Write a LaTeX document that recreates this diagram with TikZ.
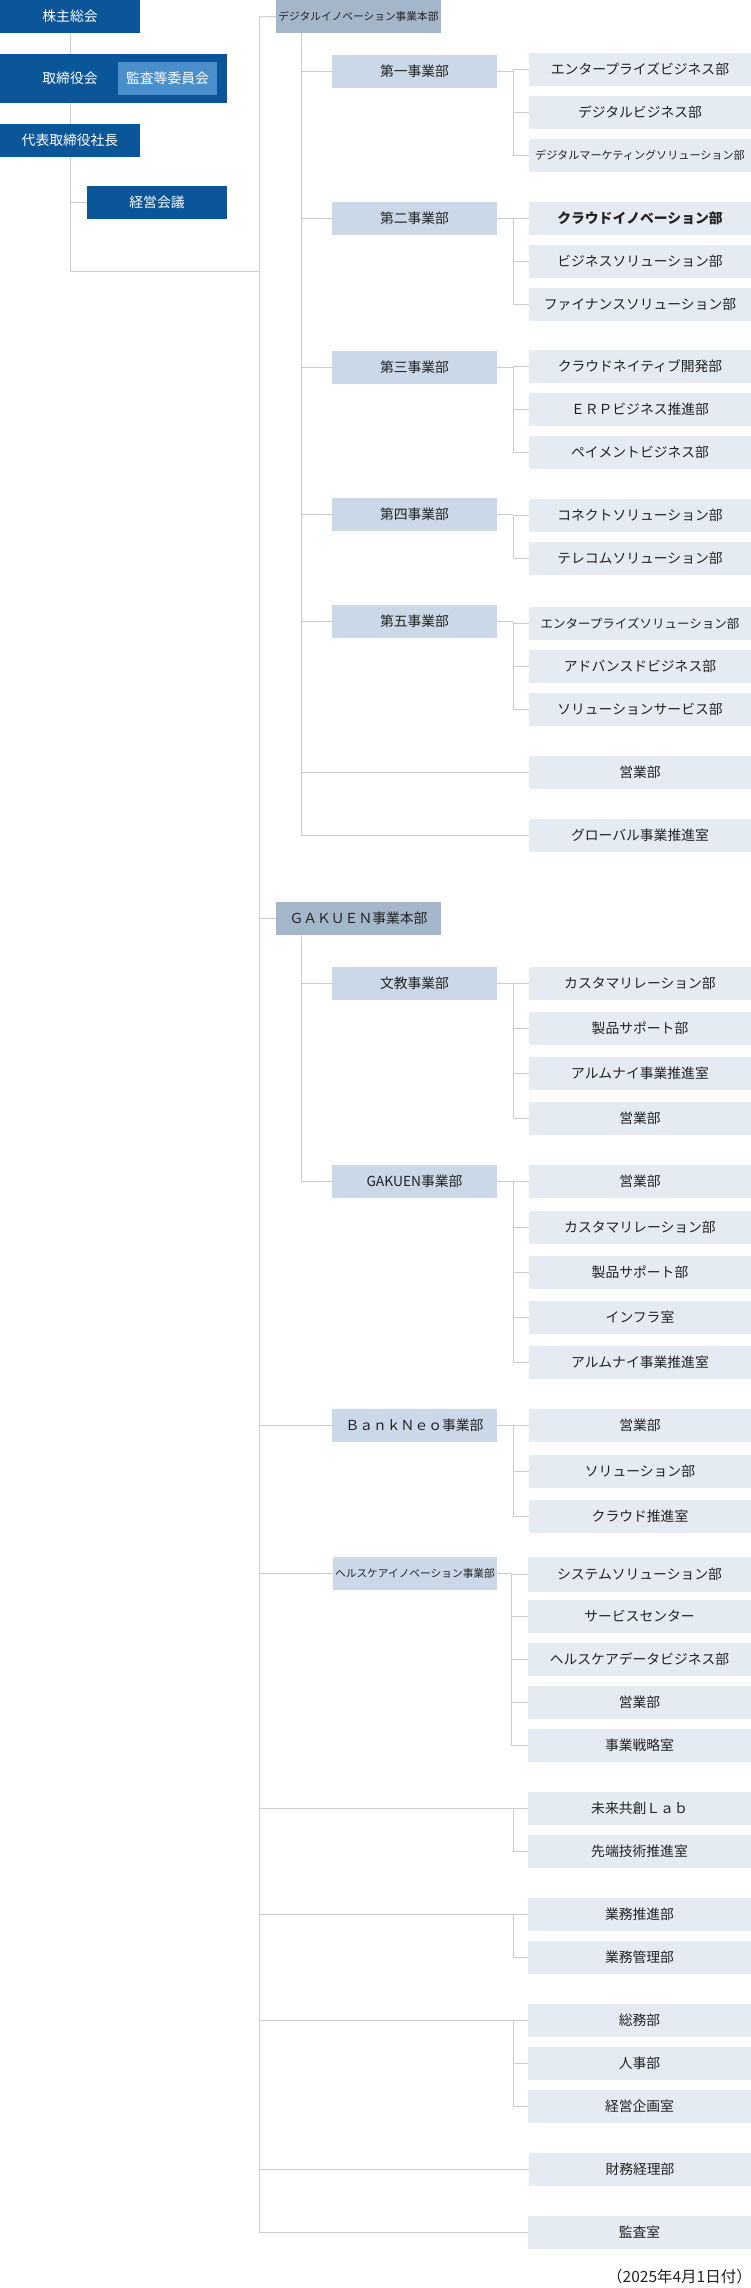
\documentclass[tikz,border=0pt]{standalone}
\usepackage{fontspec}
\setmainfont{Noto Sans CJK JP}
\newcommand{\fsz}[1]{\fontsize{#1}{#1}\selectfont}
\definecolor{cNavy}{HTML}{0B5699}
\definecolor{cLight}{HTML}{4A8ECC}
\definecolor{cHQ}{HTML}{A4B6CA}
\definecolor{cLtwo}{HTML}{CBD8E7}
\definecolor{cLthree}{HTML}{E4EBF3}
\definecolor{cLine}{HTML}{CCCCCC}
\definecolor{cText}{HTML}{222222}
\tikzset{
  conn/.style={draw=cLine, line width=1pt},
  boxbase/.style={anchor=north west, inner sep=0pt, outer sep=0pt, font=\fsz{13.8}, text=cText},
  navybox/.style={boxbase, fill=cNavy, text=white, minimum width=140pt, minimum height=33pt},
  hqbox/.style={boxbase, fill=cHQ, minimum width=165pt, minimum height=33pt},
  ltwobox/.style={boxbase, fill=cLtwo, minimum width=165pt, minimum height=33pt},
  lthreebox/.style={boxbase, fill=cLthree, minimum width=222pt, minimum height=33pt},
  lthreeb/.style={boxbase, fill=cLthree, minimum width=223pt, minimum height=33pt},
}
\begin{document}
\begin{tikzpicture}[x=1pt,y=-1pt]
\useasboundingbox (0,0) rectangle (751,2288);

% ---------- left column ----------
\node[navybox] (kabu) at (0,0) {株主総会};
\node[navybox, minimum width=227pt, minimum height=49pt] (tori) at (0,54) {};
\node[font=\fsz{13.8}, text=white, inner sep=0pt] (toritxt) at (70,78.5) {取締役会};
\node[navybox, fill=cLight, minimum width=99pt] (kansa) at (118,62) {監査等委員会};
\node[navybox] (dai) at (0,124) {代表取締役社長};
\node[navybox] (keiei) at (87,186) {経営会議};

\coordinate (ttop) at (259,17);
\coordinate (lc) at (70,271);
\draw[conn] (kabu.south) -- (kabu.south |- tori.north);
\draw[conn] (dai.north |- tori.south) -- (dai.north);
\draw[conn] (dai.south) -- (lc) -- (lc -| ttop);
\draw[conn] (dai.south |- keiei.west) -- (keiei.west);

% ---------- Digital Innovation ----------
\node[hqbox] (hq1) at (276,0) {\fsz{10.7}デジタルイノベーション事業本部};
\node[ltwobox] (d1) at (332,55) {第一事業部};
\node[ltwobox] (d2) at (332,202) {第二事業部};
\node[ltwobox] (d3) at (332,351) {第三事業部};
\node[ltwobox] (d4) at (332,498) {第四事業部};
\node[ltwobox] (d5) at (332,605) {第五事業部};

\node[lthreebox] (c11) at (529,53) {エンタープライズビジネス部};
\node[lthreebox] (c12) at (529,96) {デジタルビジネス部};
\node[lthreebox] (c13) at (529,139) {\fsz{11.1}デジタルマーケティングソリューション部};
\node[lthreebox] (c21) at (529,202) {\bfseries クラウドイノベーション部};
\node[lthreebox] (c22) at (529,245) {ビジネスソリューション部};
\node[lthreebox] (c23) at (529,288) {ファイナンスソリューション部};
\node[lthreebox] (c31) at (529,350) {クラウドネイティブ開発部};
\node[lthreebox] (c32) at (529,393) {ＥＲＰビジネス推進部};
\node[lthreebox] (c33) at (529,436) {ペイメントビジネス部};
\node[lthreebox] (c41) at (529,499) {コネクトソリューション部};
\node[lthreebox] (c42) at (529,542) {テレコムソリューション部};
\node[lthreebox] (c51) at (529,607) {\fsz{12.5}エンタープライズソリューション部};
\node[lthreebox] (c52) at (529,650) {アドバンスドビジネス部};
\node[lthreebox] (c53) at (529,693) {ソリューションサービス部};
\node[lthreebox] (yo1) at (529,756) {営業部};
\node[lthreebox] (gl1) at (529,819) {グローバル事業推進室};

\coordinate (s1) at (301,33);
\draw[conn] (s1) -- (s1 |- gl1.west);
\foreach \n in {d1,d2,d3,d4,d5,yo1,gl1} \draw[conn] (s1 |- \n.west) -- (\n.west);

\path (d1.east) ++(16,0) coordinate (j1);
\draw[conn] (d1.east) -- (j1);
\foreach \c in {c11,c12,c13} \draw[conn] (j1) |- (\c.west);
\path (d2.east) ++(16,0) coordinate (j2);
\draw[conn] (d2.east) -- (j2);
\foreach \c in {c21,c22,c23} \draw[conn] (j2) |- (\c.west);
\path (d3.east) ++(16,0) coordinate (j3);
\draw[conn] (d3.east) -- (j3);
\foreach \c in {c31,c32,c33} \draw[conn] (j3) |- (\c.west);
\path (d4.east) ++(16,0) coordinate (j4);
\draw[conn] (d4.east) -- (j4);
\foreach \c in {c41,c42} \draw[conn] (j4) |- (\c.west);
\path (d5.east) ++(16,0) coordinate (j5);
\draw[conn] (d5.east) -- (j5);
\foreach \c in {c51,c52,c53} \draw[conn] (j5) |- (\c.west);

% ---------- GAKUEN ----------
\node[hqbox] (hq2) at (276,902) {ＧＡＫＵＥＮ事業本部};
\node[ltwobox] (g1) at (332,967) {文教事業部};
\node[ltwobox] (g2) at (332,1165) {GAKUEN事業部};

\node[lthreebox] (b11) at (529,967) {カスタマリレーション部};
\node[lthreebox] (b12) at (529,1012) {製品サポート部};
\node[lthreebox] (b13) at (529,1057) {アルムナイ事業推進室};
\node[lthreebox] (b14) at (529,1102) {営業部};
\node[lthreebox] (b21) at (529,1165) {営業部};
\node[lthreebox] (b22) at (529,1211) {カスタマリレーション部};
\node[lthreebox] (b23) at (529,1256) {製品サポート部};
\node[lthreebox] (b24) at (529,1301) {インフラ室};
\node[lthreebox] (b25) at (529,1346) {アルムナイ事業推進室};

\draw[conn] (ttop |- hq2.west) -- (hq2.west);
\coordinate (s2) at (301,935);
\draw[conn] (s2) -- (s2 |- g2.west);
\foreach \n in {g1,g2} \draw[conn] (s2 |- \n.west) -- (\n.west);
\path (g1.east) ++(16,0) coordinate (jg1);
\draw[conn] (g1.east) -- (jg1);
\foreach \c in {b11,b12,b13,b14} \draw[conn] (jg1) |- (\c.west);
\path (g2.east) ++(16,0) coordinate (jg2);
\draw[conn] (g2.east) -- (jg2);
\foreach \c in {b21,b22,b23,b24,b25} \draw[conn] (jg2) |- (\c.west);

% ---------- BankNeo ----------
\node[ltwobox] (bn) at (332,1409) {ＢａｎｋＮｅｏ事業部};
\node[lthreebox] (n1) at (529,1409) {営業部};
\node[lthreebox] (n2) at (529,1455) {ソリューション部};
\node[lthreebox] (n3) at (529,1500) {クラウド推進室};
\draw[conn] (ttop |- bn.west) -- (bn.west);
\path (bn.east) ++(16,0) coordinate (jbn);
\draw[conn] (bn.east) -- (jbn);
\foreach \c in {n1,n2,n3} \draw[conn] (jbn) |- (\c.west);

% ---------- Healthcare ----------
\node[ltwobox, minimum width=164pt] (hc) at (333,1557) {\fsz{10.7}ヘルスケアイノベーション事業部};
\node[lthreeb, minimum height=35pt] (h1) at (528,1557) {システムソリューション部};
\node[lthreeb] (h2) at (528,1600) {サービスセンター};
\node[lthreeb] (h3) at (528,1643) {ヘルスケアデータビジネス部};
\node[lthreeb] (h4) at (528,1686) {営業部};
\node[lthreeb] (h5) at (528,1729) {事業戦略室};
\draw[conn] (ttop |- hc.west) -- (hc.west);
\path (hc.east) ++(14,0) coordinate (jhc);
\draw[conn] (hc.east) -- (jhc);
\foreach \c in {h1,h2,h3,h4,h5} \draw[conn] (jhc) |- (\c.west);

% ---------- direct groups ----------
\node[lthreeb] (m1) at (528,1792) {未来共創Ｌａｂ};
\node[lthreeb] (m2) at (528,1835) {先端技術推進室};
\draw[conn] (ttop |- m1.west) -- (m1.west);
\path (m1.west) ++(-15,0) coordinate (jm);
\draw[conn] (jm) |- (m2.west);

\node[lthreeb] (k1) at (528,1898) {業務推進部};
\node[lthreeb] (k2) at (528,1941) {業務管理部};
\draw[conn] (ttop |- k1.west) -- (k1.west);
\path (k1.west) ++(-15,0) coordinate (jk);
\draw[conn] (jk) |- (k2.west);

\node[lthreeb] (a1) at (528,2004) {総務部};
\node[lthreeb] (a2) at (528,2047) {人事部};
\node[lthreeb] (a3) at (528,2090) {経営企画室};
\draw[conn] (ttop |- a1.west) -- (a1.west);
\path (a1.west) ++(-15,0) coordinate (ja);
\foreach \c in {a2,a3} \draw[conn] (ja) |- (\c.west);

\node[lthreebox] (zai) at (529,2153) {財務経理部};
\draw[conn] (ttop |- zai.west) -- (zai.west);

\node[lthreeb] (ksh) at (528,2216) {監査室};
\draw[conn] (ttop |- ksh.west) -- (ksh.west);

% main trunk
\draw[conn] (ttop) -- (hq1.west);
\draw[conn] (ttop) -- (ttop |- ksh.west);

% date
\node[anchor=east, inner sep=0pt, font=\fsz{15.5}, text=cText] (date) at (752,2277) {（2025年4月1日付）};
\end{tikzpicture}
\end{document}
